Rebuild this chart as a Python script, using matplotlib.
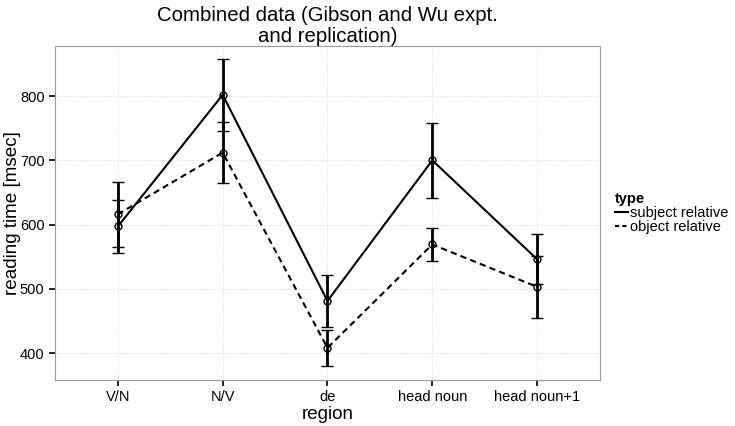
import numpy as np
import matplotlib
matplotlib.use("Agg")
import matplotlib.pyplot as plt
from matplotlib.lines import Line2D

plt.rcParams['font.family'] = ['Liberation Sans', 'DejaVu Sans']

regions = ["V/N", "N/V", "de", "head noun", "head noun+1"]
subj_mean = [597, 802, 481, 700, 546]
subj_err = [41, 56, 41, 58, 39]
obj_mean = [616, 712, 408, 569, 503]
obj_err = [51, 48, 28, 25, 48]

x = np.arange(1, len(regions) + 1)

fig = plt.figure(figsize=(7.35, 4.26), dpi=100)
ax = fig.add_axes([0.0748, 0.108, 0.7415, 0.784])

# solid = subject relative, dashed = object relative
ax.errorbar(x, subj_mean, yerr=subj_err, color='black', lw=1.5, elinewidth=2,
            capsize=4, capthick=2, marker='o', ms=5, mfc='none', mew=1,
            zorder=3)
ax.errorbar(x, obj_mean, yerr=obj_err, color='black', lw=1.5, ls=(0, (3, 2)),
            elinewidth=2, capsize=4, capthick=2, marker='o', ms=5, mfc='none',
            mew=1, zorder=3)

ax.set_xlim(0.4, 5.6)
ax.set_ylim(358, 878)
ax.set_xticks(x)
ax.set_xticklabels(regions)
ax.set_yticks([400, 500, 600, 700, 800])
ax.tick_params(axis='both', labelsize=10.5, length=4.5, width=1.2,
               colors='black', pad=3)

ax.grid(True, color='#e3e3e3', lw=0.8, ls=(0, (1, 1)))
ax.set_axisbelow(True)
for sp in ax.spines.values():
    sp.set_color('#999999')
    sp.set_linestyle((0, (1, 1)))
    sp.set_linewidth(0.8)

ax.set_xlabel("region", fontsize=13.5, labelpad=1)
ax.set_ylabel("reading time [msec]", fontsize=13.6, labelpad=-1)
ax.set_title("Combined data (Gibson and Wu expt.\nand replication)",
             fontsize=14.7, linespacing=1.15, pad=3)

handles = [Line2D([0], [0], color='black', lw=1.5),
           Line2D([0], [0], color='black', lw=1.5, ls=(0, (2, 1.5)))]
leg = ax.legend(handles, ["subject relative", "object relative"], title="type",
                loc='center left', bbox_to_anchor=(1.028, 0.5), frameon=False,
                fontsize=10.5, title_fontsize=10.5, handlelength=0.9,
                handletextpad=0.1, labelspacing=0.0, borderaxespad=0,
                borderpad=0)
leg.get_title().set_fontweight('bold')
leg._legend_box.align = "left"

fig.savefig("out.png", dpi=100)
